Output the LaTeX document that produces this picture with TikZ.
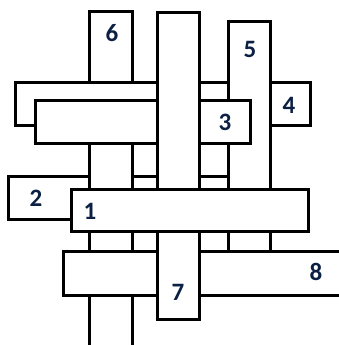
\documentclass[tikz,border=0pt]{standalone}
\usepackage{fontspec}
\setmainfont{Carlito}
\definecolor{labelblue}{RGB}{12,32,68}
\tikzset{
  stick/.style={draw=black, fill=white, line width=3pt, rectangle, inner sep=0pt, outer sep=0pt},
  num/.style={font=\fontsize{25}{25}\selectfont\bfseries, text=labelblue, inner sep=0pt}
}
\begin{document}
\begin{tikzpicture}[x=1pt,y=-1pt]
\useasboundingbox (0,0) rectangle (339,345);
\fill[white] (0,0) rectangle (339,345);
\clip (0,0) rectangle (339,345);
% sticks, bottom to top
\node[stick, minimum width=242pt, minimum height=43pt] (s2) at (129,197.5) {};
\node[stick, minimum width=43pt, minimum height=360pt] (s6) at (110.5,192) {};
\node[stick, minimum width=295pt, minimum height=43pt] (s4) at (162.5,103.5) {};
\node[stick, minimum width=42pt, minimum height=250pt] (s5) at (249,147) {};
\node[stick, minimum width=215pt, minimum height=43pt] (s3) at (142.5,121.5) {};
\node[stick, minimum width=300pt, minimum height=44pt] (s8) at (213,273) {};
\node[stick, minimum width=42pt, minimum height=306pt] (s7) at (178,166) {};
\node[stick, minimum width=237pt, minimum height=42pt] (s1) at (189.5,210) {};
% labels
\node[num] (l6) at (112,33) {6};
\node[num] (l5) at (250,49) {5};
\node[num] (l4) at (289,105) {4};
\node[num] (l3) at (225,122) {3};
\node[num] (l2) at (36,198) {2};
\node[num] (l1) at (90,211) {1};
\node[num] (l7) at (178,292) {7};
\node[num] (l8) at (316,272) {8};
\end{tikzpicture}
\end{document}
